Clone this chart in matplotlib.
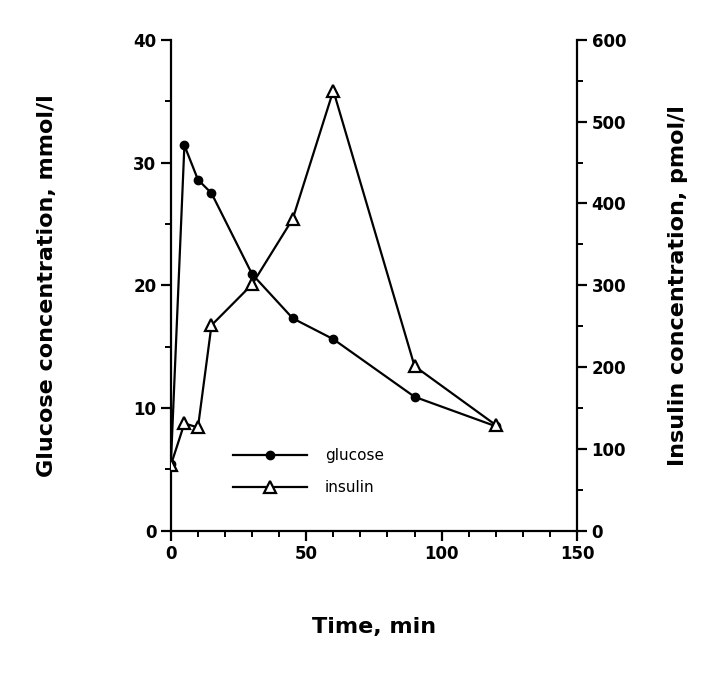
import numpy as np
import matplotlib.pyplot as plt
from matplotlib.ticker import MultipleLocator

# values
time_min = [0, 5, 10, 15, 30, 45, 60, 90, 120]
glucose = [5.4, 31.4, 28.6, 27.5, 20.9, 17.3, 15.6, 10.9, 8.5]   # mmol/l
insulin = [80, 131, 126, 251, 301, 381, 538, 201, 129]          # pmol/l

fig = plt.figure(figsize=(7.24, 6.75), dpi=100)
ax = fig.add_axes([0.236, 0.214, 0.561, 0.727])
ax2 = ax.twinx()

lw = 1.6
l1, = ax.plot(time_min, glucose, color='black', lw=lw, marker='o', ms=6,
              mfc='black', mec='black', label='glucose', zorder=3)
l2, = ax2.plot(time_min, insulin, color='black', lw=lw, marker='^', ms=9,
               mfc='white', mec='black', mew=1.6, label='insulin', zorder=4)

ax.set_xlim(0, 150)
ax.set_ylim(0, 40)
ax2.set_ylim(0, 600)

for a in (ax, ax2):
    a.spines['top'].set_visible(False)
    for s in ('left', 'right', 'bottom'):
        a.spines[s].set_linewidth(1.6)

ax.spines['right'].set_visible(False)
ax2.spines['left'].set_visible(False)
ax2.spines['bottom'].set_visible(False)

ax.xaxis.set_major_locator(MultipleLocator(50))
ax.xaxis.set_minor_locator(MultipleLocator(10))
ax.yaxis.set_major_locator(MultipleLocator(10))
ax.yaxis.set_minor_locator(MultipleLocator(5))
ax2.yaxis.set_major_locator(MultipleLocator(100))
ax2.yaxis.set_minor_locator(MultipleLocator(50))

ax.tick_params(which='major', length=7, width=1.6, labelsize=12, direction='out')
ax.tick_params(which='minor', length=4, width=1.4, direction='out')
ax2.tick_params(which='major', length=7, width=1.6, labelsize=12, direction='out')
ax2.tick_params(which='minor', length=4, width=1.4, direction='out')

for lab in ax.get_xticklabels() + ax.get_yticklabels() + ax2.get_yticklabels():
    lab.set_fontweight('bold')

ax.set_xlabel('Time, min', fontsize=16, fontweight='bold', labelpad=39)
ax.set_ylabel('Glucose concentration, mmol/l', fontsize=16, fontweight='bold', labelpad=55)
ax2.set_ylabel('Insulin concentration, pmol/l', fontsize=16, fontweight='bold', labelpad=30)

ax2.legend([l1, l2], ['glucose', 'insulin'], loc='lower left',
           bbox_to_anchor=(0.12, 0.044), frameon=False, handlelength=4.8,
           fontsize=11, labelspacing=1.12, handletextpad=1.2)

plt.savefig('out.png')
